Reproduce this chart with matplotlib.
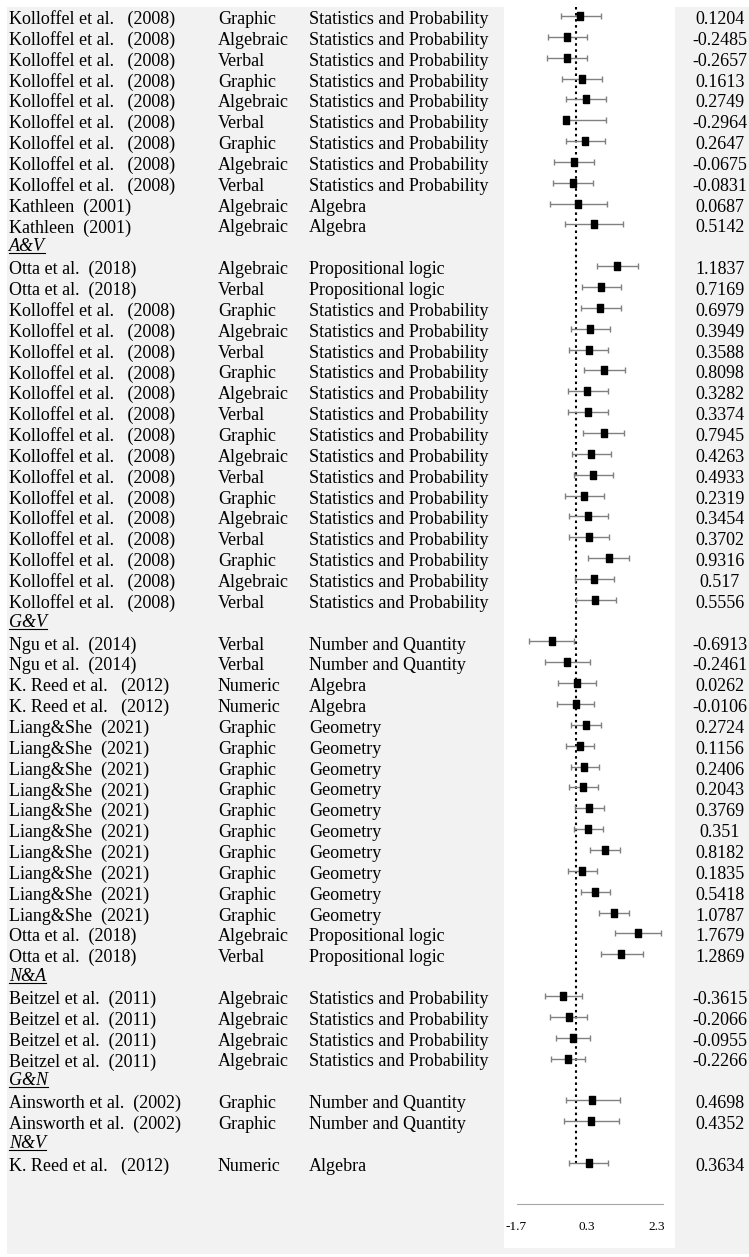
import matplotlib.pyplot as plt
from matplotlib.patches import Rectangle

plt.rcParams['font.family'] = ['Liberation Serif', 'DejaVu Serif']

# groups in display order (the first block continues from the previous page, no header)
group_names = ['', 'A&V', 'G&V', 'N&A', 'G&N', 'N&V']
group_sizes = [11, 17, 16, 4, 2, 1]

studies = (['Kolloffel et al.   (2008)'] * 9 + ['Kathleen  (2001)'] * 2
           + ['Otta et al.  (2018)'] * 2 + ['Kolloffel et al.   (2008)'] * 15
           + ['Ngu et al.  (2014)'] * 2 + ['K. Reed et al.   (2012)'] * 2
           + ['Liang&She  (2021)'] * 10 + ['Otta et al.  (2018)'] * 2
           + ['Beitzel et al.  (2011)'] * 4
           + ['Ainsworth et al.  (2002)'] * 2
           + ['K. Reed et al.   (2012)'])

representations = (['Graphic', 'Algebraic', 'Verbal'] * 3 + ['Algebraic', 'Algebraic']
                   + ['Algebraic', 'Verbal'] + ['Graphic', 'Algebraic', 'Verbal'] * 5
                   + ['Verbal', 'Verbal', 'Numeric', 'Numeric'] + ['Graphic'] * 10
                   + ['Algebraic', 'Verbal']
                   + ['Algebraic'] * 4
                   + ['Graphic'] * 2
                   + ['Numeric'])

contents = (['Statistics and Probability'] * 9 + ['Algebra'] * 2
            + ['Propositional logic'] * 2 + ['Statistics and Probability'] * 15
            + ['Number and Quantity'] * 2 + ['Algebra'] * 2 + ['Geometry'] * 10
            + ['Propositional logic'] * 2
            + ['Statistics and Probability'] * 4
            + ['Number and Quantity'] * 2
            + ['Algebra'])

effects = [0.1204, -0.2485, -0.2657, 0.1613, 0.2749, -0.2964, 0.2647, -0.0675, -0.0831,
           0.0687, 0.5142,
           1.1837, 0.7169, 0.6979, 0.3949, 0.3588, 0.8098, 0.3282, 0.3374, 0.7945,
           0.4263, 0.4933, 0.2319, 0.3454, 0.3702, 0.9316, 0.517, 0.5556,
           -0.6913, -0.2461, 0.0262, -0.0106, 0.2724, 0.1156, 0.2406, 0.2043,
           0.3769, 0.351, 0.8182, 0.1835, 0.5418, 1.0787, 1.7679, 1.2869,
           -0.3615, -0.2066, -0.0955, -0.2266,
           0.4698, 0.4352,
           0.3634]

ci_lower = [-0.44, -0.81, -0.84, -0.40, -0.30, -0.31, -0.30, -0.62, -0.65,
            -0.74, -0.31,
            0.59, 0.17, 0.13, -0.15, -0.20, 0.23, -0.23, -0.22, 0.21,
            -0.12, -0.07, -0.32, -0.21, -0.19, 0.35, -0.03, 0.00,
            -1.33, -0.88, -0.52, -0.54, -0.13, -0.30, -0.15, -0.21,
            -0.03, -0.07, 0.40, -0.23, 0.13, 0.65, 1.11, 0.70,
            -0.89, -0.74, -0.58, -0.72,
            -0.30, -0.35,
            -0.20]

ci_upper = [0.70, 0.31, 0.30, 0.73, 0.85, 0.87, 0.83, 0.50, 0.49,
            0.89, 1.35,
            1.78, 1.28, 1.28, 0.96, 0.92, 1.40, 0.90, 0.91, 1.38,
            1.00, 1.07, 0.80, 0.91, 0.94, 1.52, 1.09, 1.13,
            -0.05, 0.39, 0.57, 0.52, 0.70, 0.52, 0.67, 0.62,
            0.80, 0.77, 1.26, 0.60, 0.97, 1.52, 2.42, 1.90,
            0.17, 0.32, 0.40, 0.27,
            1.26, 1.23,
            0.91]

tick_values = [-1.7, 0.3, 2.3]

# page geometry in pixels
W, H = 749, 1257
ROW0, ROW_STEP = 16, 20.85
PANEL_L, PANEL_R = 504, 675
AXIS_Y, PANEL_B = 1204, 1248
ZERO_X, PX_PER_UNIT = 576, 35


def row_y(i):
    return ROW0 + ROW_STEP * i


# assign table rows: a header line (if any) then the studies of each group
header_rows = []
data_rows = []
r = 0
for name, n in zip(group_names, group_sizes):
    if name:
        header_rows.append((r, name))
        r += 1
    data_rows.extend(range(r, r + n))
    r += n
last_row = r - 1

fig = plt.figure(figsize=(W / 100, H / 100), dpi=100)
fig.patch.set_facecolor('white')

bg = fig.add_axes([0, 0, 1, 1])
bg.set_xlim(0, W)
bg.set_ylim(H, 0)
bg.axis('off')
bg.add_patch(Rectangle((7, 7), W - 7, 1254 - 7, facecolor='#f2f2f2', edgecolor='none'))
bg.add_patch(Rectangle((PANEL_L, 0), PANEL_R - PANEL_L, PANEL_B,
                       facecolor='white', edgecolor='none'))

fs = 13
for i, row in enumerate(data_rows):
    y = row_y(row) + 8
    bg.text(9, y, studies[i], fontsize=fs, va='baseline', ha='left')
    bg.text(218, y, representations[i], fontsize=fs, va='baseline', ha='left')
    bg.text(309, y, contents[i], fontsize=fs, va='baseline', ha='left')
    bg.text(720, y, f'{effects[i]}', fontsize=fs, va='baseline', ha='center')

for row, name in header_rows:
    y = row_y(row) + 6
    t = bg.text(9, y, name, fontsize=fs, style='italic', va='baseline', ha='left')
    fig.canvas.draw()
    bb = t.get_window_extent()
    x1 = bb.x1 * W / fig.bbox.width
    bg.plot([9, x1], [y + 2, y + 2], color='black', lw=0.8)

# forest plot panel
ax = fig.add_axes([PANEL_L / W, (H - AXIS_Y) / H, (PANEL_R - PANEL_L) / W, AXIS_Y / H])
ax.patch.set_alpha(0)
ax.set_xlim((PANEL_L - ZERO_X) / PX_PER_UNIT, (PANEL_R - ZERO_X) / PX_PER_UNIT)
ax.set_ylim((AXIS_Y - ROW0) / ROW_STEP, -ROW0 / ROW_STEP)

ax.plot([0, 0], [(7 - ROW0) / ROW_STEP, last_row + 0.1], color='black',
        lw=1.5, linestyle=(0, (1.2, 1.7)), zorder=1)

xerr = [[e - lo for e, lo in zip(effects, ci_lower)],
        [hi - e for e, hi in zip(effects, ci_upper)]]
ax.errorbar(effects, data_rows, xerr=xerr, fmt='none', ecolor='#808080',
            elinewidth=1, capsize=2.3, capthick=1, zorder=2)
box = [(-0.33, -0.5), (0.33, -0.5), (0.33, 0.5), (-0.33, 0.5), (-0.33, -0.5)]
ax.plot(effects, data_rows, linestyle='none', marker=box, markersize=6.2,
        color='black', zorder=3)

for side in ['top', 'left', 'right']:
    ax.spines[side].set_visible(False)
ax.spines['bottom'].set_bounds(-1.7, 2.49)
ax.spines['bottom'].set_color('#a6a6a6')
ax.spines['bottom'].set_linewidth(0.8)
ax.set_yticks([])
ax.set_xticks(tick_values)
ax.set_xticklabels([f'{v}' for v in tick_values])
ax.tick_params(axis='x', length=0, pad=12, labelsize=9.5)

fig.savefig('out.png', dpi=100)
